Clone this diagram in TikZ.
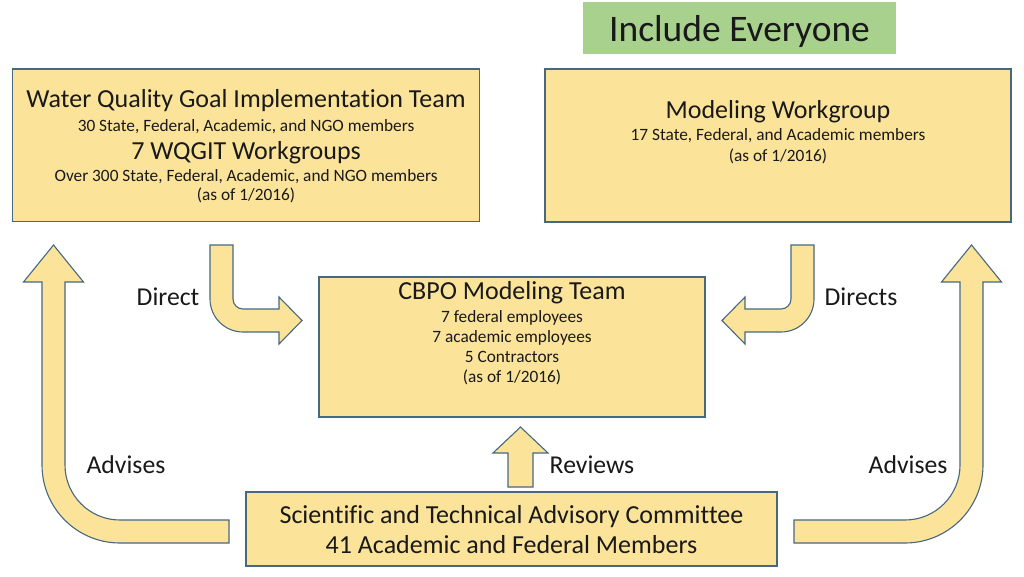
\documentclass[tikz,border=0pt]{standalone}
\usepackage{fontspec}
\setmainfont{Carlito}[Ligatures=NoCommon]
\definecolor{boxfill}{RGB}{251,228,154}
\definecolor{boxedge}{RGB}{72,104,128}
\definecolor{greenfill}{RGB}{169,209,142}
\definecolor{txt}{RGB}{25,25,25}
\begin{document}
\begin{tikzpicture}[x=1pt,y=-1pt,
  box/.style={draw=boxedge, fill=boxfill, line width=1.3pt, inner sep=0pt},
  blockarrow/.style={draw=boxedge, fill=boxfill, line width=1.1pt, line join=miter},
  big/.style={font=\fontsize{26}{30}\selectfont, text=txt, anchor=base, inner sep=0pt},
  small/.style={font=\fontsize{17.3}{20}\selectfont, text=txt, anchor=base, inner sep=0pt},
  lbl/.style={font=\fontsize{25.7}{29}\selectfont, text=txt, anchor=base, inner sep=0pt}]
\useasboundingbox (0,0) rectangle (1024,576);
\fill[white] (0,0) rectangle (1024,576);

% title
\node[fill=greenfill, minimum width=313pt, minimum height=52pt, inner sep=0pt] (hdr) at (739.5,28) {};
\node[font=\fontsize{37.5}{40}\selectfont, text=txt, anchor=base, inner sep=0pt] (hdrt) at (739.5,41.5) {Include Everyone};

% boxes
\node[box, minimum width=467pt, minimum height=152.5pt] (wq) at (246,145.25) {};
\node[box, minimum width=466pt, minimum height=153pt] (mw) at (778,145.5) {};
\node[box, minimum width=386pt, minimum height=140pt] (cbpo) at (512,347) {};
\node[box, minimum width=531pt, minimum height=74pt] (stac) at (511.5,529) {};

% WQGIT text
\node[big] (wq1) at (246,107) {Water Quality Goal Implementation Team};
\node[small] (wq2) at (246,131) {30 State, Federal, Academic, and NGO members};
\node[big] (wq3) at (246,159.5) {7 WQGIT Workgroups};
\node[small] (wq4) at (246,181) {Over 300 State, Federal, Academic, and NGO members};
\node[small] (wq5) at (246,200) {(as of 1/2016)};

% Modeling Workgroup text
\node[big] (mw1) at (778,118) {Modeling Workgroup};
\node[small] (mw2) at (778,140) {17 State, Federal, and Academic members};
\node[small] (mw3) at (778,161) {(as of 1/2016)};

% CBPO text
\node[big] (cb1) at (512,299) {CBPO Modeling Team};
\node[small] (cb2) at (512,322) {7 federal employees};
\node[small] (cb3) at (512,342) {7 academic employees};
\node[small] (cb4) at (512,362) {5 Contractors};
\node[small] (cb5) at (512,382.5) {(as of 1/2016)};

% STAC text
\node[big] (st1) at (511.5,523) {Scientific and Technical Advisory Committee};
\node[big] (st2) at (511.5,553) {41 Academic and Federal Members};

% left big arrow (Advises)
\draw[blockarrow] (229,520) -- (120,520) arc (90:180:55) -- (65,282) -- (83.5,282)
  -- (53.5,245) -- (23.5,282) -- (42,282) -- (42,465) arc (180:90:78) -- (229,543) -- cycle;
% right big arrow (Advises)
\draw[blockarrow] (794,520) -- (905,520) arc (90:0:55) -- (960,282) -- (941.5,282)
  -- (971.5,245) -- (1001.5,282) -- (983,282) -- (983,465) arc (0:90:78) -- (794,543) -- cycle;
% left small arrow (Direct)
\draw[blockarrow] (210,245) -- (233,245) -- (233,299) arc (180:90:10) -- (279,309) -- (279,297)
  -- (302,320.5) -- (279,344) -- (279,332) -- (243,332) arc (90:180:33) -- cycle;
% right small arrow (Directs)
\draw[blockarrow] (814,245) -- (791,245) -- (791,299) arc (0:90:10) -- (745,309) -- (745,297)
  -- (722,320.5) -- (745,344) -- (745,332) -- (781,332) arc (90:0:33) -- cycle;
% reviews arrow
\draw[blockarrow] (508,487) -- (508,453) -- (493,453) -- (520.5,427) -- (548,453) -- (533,453)
  -- (533,487) -- cycle;

% labels
\node[lbl] (ldirect) at (168,305) {Direct};
\node[lbl] (ldirects) at (861,305) {Directs};
\node[lbl] (ladvl) at (126,473) {Advises};
\node[lbl] (ladvr) at (908,473) {Advises};
\node[lbl] (lrev) at (592,473) {Reviews};
\end{tikzpicture}
\end{document}
